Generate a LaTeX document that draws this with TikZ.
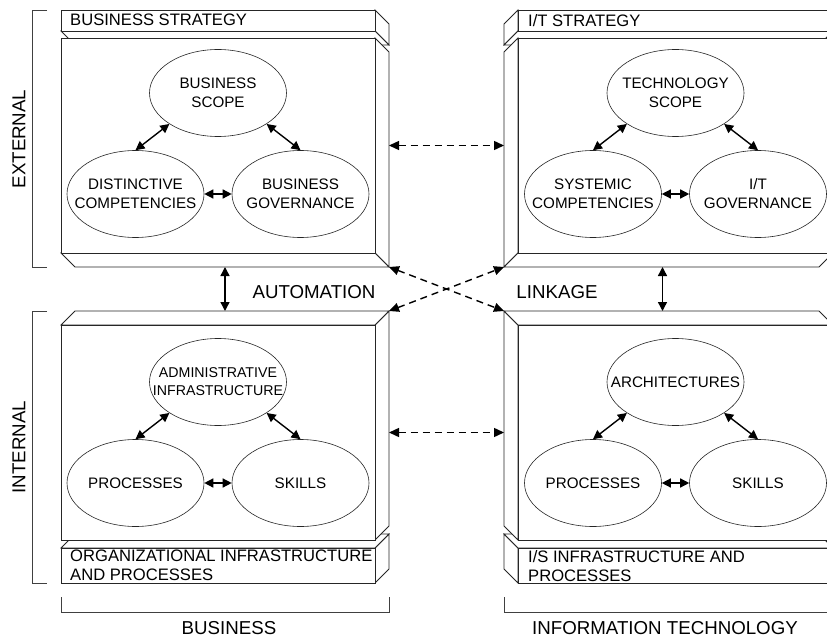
\documentclass[tikz,border=0pt]{standalone}
\usepackage{fontspec}
\setmainfont{Liberation Sans}
\usetikzlibrary{positioning}
\usetikzlibrary{shapes.geometric}
\usetikzlibrary{arrows.meta}
\newcommand{\midtext}[1]{\makebox[0pt]{#1}}
% name, front corner away from the depth, front corner towards it, depth
\newcommand{\slab}[7]{%
  \filldraw[face] (#4,#3) -- ++(#6,#7) -- ({#4+(#6)},{#5+(#7)}) -- (#4,#5) -- cycle;
  \filldraw[face] (#2,#5) -- ++(#6,#7) -- ({#4+(#6)},{#5+(#7)}) -- (#4,#5) -- cycle;
  \filldraw[face] (#2,#3) rectangle (#4,#5);
  \coordinate (#1-corner) at ({#4+(#6)},{#5+(#7)});
  \coordinate (#1-mid) at ({(#2+#4+(#6))/2},{#5+(#7)});
  \coordinate (#1-side) at ({#4+(#6)},{(#3+#5)/2});
}
\tikzset{
  face/.style={fill=white, draw=black!85, line width=0.8pt},
  blob/.style={
    ellipse, draw=black!85, line width=0.6pt,
    minimum width=137pt, minimum height=87pt, inner sep=0pt,
    align=center, font=\fontsize{15.2}{19}\selectfont
  },
  tag/.style={anchor=north west, inner sep=0pt, align=left,
    font=\fontsize{16.6}{19}\selectfont},
  caption/.style={inner sep=0pt, font=\fontsize{18.7}{22}\selectfont},
  link/.style={{Triangle[length=9pt,width=9pt]}-{Triangle[length=9pt,width=9pt]},
    line width=1.4pt},
  jump/.style={{Triangle[length=10pt,width=9pt]}-{Triangle[length=10pt,width=9pt]},
    line width=1.4pt, dash pattern=on 7pt off 5pt},
  brace/.style={draw=black!75, line width=0.8pt}
}

\begin{document}
\begin{tikzpicture}[x=1pt, y=-1pt]
    \clip (0,0) rectangle (827,639);
    % business side
    \slab{BStr}{61}{10}{375}{31}{14}{14}
    \slab{BExt}{61}{38}{375}{253}{14}{14}
    \slab{BOrg}{61}{583}{375}{548}{14}{-14}
    \slab{BInt}{61}{540}{375}{325}{14}{-14}
    % technology side
    \slab{TStr}{833}{10}{518}{31}{-14}{14}
    \slab{TExt}{833}{38}{518}{253}{-14}{14}
    \slab{TOrg}{833}{583}{518}{548}{-14}{-14}
    \slab{TInt}{833}{540}{518}{325}{-14}{-14}
    \node[tag] (BStrText) at (70,14) {BUSINESS STRATEGY};
    \node[tag] (TStrText) at (528,14) {I/T STRATEGY};
    \node[tag] (BOrgText) at (70,550) {ORGANIZATIONAL INFRASTRUCTURE\\AND PROCESSES};
    \node[tag] (TOrgText) at (528,550) {I/S INFRASTRUCTURE AND\\PROCESSES};
    % ellipses
    \node[blob] (BScope) at (218,93) {\midtext{BUSINESS}\\\midtext{SCOPE}};
    \node[blob, on grid, below left=101pt and 82.5pt of BScope] (BComp) {\midtext{DISTINCTIVE}\\\midtext{COMPETENCIES}};
    \node[blob, on grid, below right=101pt and 82.5pt of BScope] (BGov) {\midtext{BUSINESS}\\\midtext{GOVERNANCE}};
    \node[blob] (TScope) at (675.5,93) {\midtext{TECHNOLOGY}\\\midtext{SCOPE}};
    \node[blob, on grid, below left=101pt and 82.5pt of TScope] (TComp) {\midtext{SYSTEMIC}\\\midtext{COMPETENCIES}};
    \node[blob, on grid, below right=101pt and 82.5pt of TScope] (TGov) {\midtext{I/T}\\\midtext{GOVERNANCE}};
    \node[blob, font=\fontsize{14.2}{18}\selectfont] (BAdm) at (218,382) {\midtext{ADMINISTRATIVE}\\\midtext{INFRASTRUCTURE}};
    \node[blob, on grid, below left=101pt and 82.5pt of BAdm] (BProc) {PROCESSES};
    \node[blob, on grid, below right=101pt and 82.5pt of BAdm] (BSkill) {SKILLS};
    \node[blob] (TArch) at (675.5,382) {\midtext{ARCHITECTURES}};
    \node[blob, on grid, below left=101pt and 82.5pt of TArch] (TProc) {PROCESSES};
    \node[blob, on grid, below right=101pt and 82.5pt of TArch] (TSkill) {SKILLS};
    \foreach \hub/\lhs/\rhs in {BScope/BComp/BGov, TScope/TComp/TGov,
                                BAdm/BProc/BSkill, TArch/TProc/TSkill} {
      \draw[link] (\hub.south west) -- (\lhs.north);
      \draw[link] (\hub.south east) -- (\rhs.north);
      \draw[link] (\lhs) -- (\rhs);
    }
    % links between the slabs
    \draw[link] (BExt-mid) -- (BInt-mid);
    \draw[link] ([xshift=-6pt]TExt-mid) -- ([xshift=-6pt]TInt-mid);
    \draw[jump] (BExt-side) -- (TExt-side);
    \draw[jump] (BInt-side) -- (TInt-side);
    \draw[jump] (BExt-corner) -- (TInt-corner);
    \draw[jump] (BInt-corner) -- (TExt-corner);
    \node[caption] (autoLbl) at (314,292) {AUTOMATION};
    \node[caption] (linkLbl) at (557,292) {LINKAGE};
    % brackets
    \draw[brace] (47,10) -| (32,267) -- (47,267);
    \draw[brace] (47,311) -| (32,583) -- (47,583);
    \draw[brace] (61,597) |- (389,612) -- (389,597);
    \draw[brace] (504,597) |- (847,612) -- (847,597);
    \node[caption, rotate=90] (extLbl) at (19,139) {EXTERNAL};
    \node[caption, rotate=90] (intLbl) at (19,447) {INTERNAL};
    \node[caption] (bizLbl) at (229,628) {BUSINESS};
    \node[caption] (itLbl) at (665,628) {INFORMATION TECHNOLOGY};
\end{tikzpicture}
\end{document}
